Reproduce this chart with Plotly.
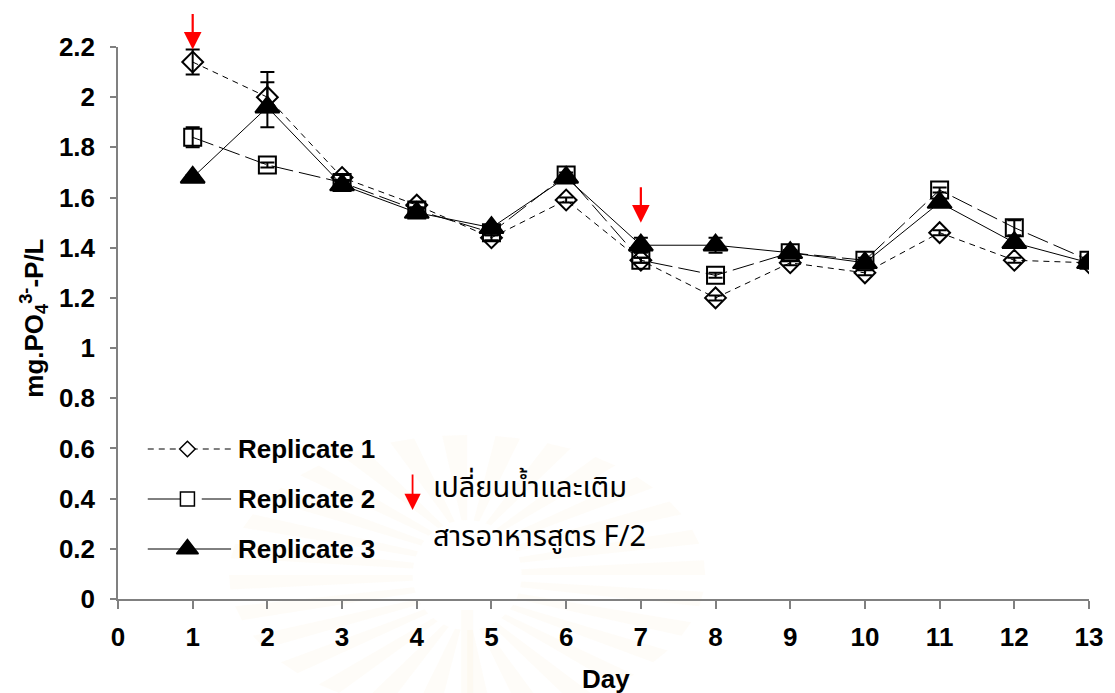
import math
import plotly.graph_objects as go

# Phosphate concentration (mg PO4(3-)-P/L) over the culture period
days = [1, 2, 3, 4, 5, 6, 7, 8, 9, 10, 11, 12, 13]

rep1 = [2.14, 2.00, 1.68, 1.57, 1.44, 1.59, 1.35, 1.20, 1.34, 1.30, 1.46, 1.35, 1.34]
rep1_err = [0.05, 0.06, 0.01, 0.01, 0.01, 0.01, 0.01, 0.01, 0.01, 0.01, 0.01, 0.01, 0.01]

rep2 = [1.84, 1.73, 1.66, 1.55, 1.46, 1.69, 1.35, 1.29, 1.38, 1.35, 1.63, 1.48, 1.35]
rep2_err = [0.04, 0.01, 0.01, 0.01, 0.01, 0.01, 0.01, 0.01, 0.01, 0.01, 0.01, 0.03, 0.01]

rep3 = [1.68, 1.96, 1.65, 1.54, 1.48, 1.68, 1.41, 1.41, 1.38, 1.34, 1.58, 1.42, 1.34]
rep3_err_plus = [0.01, 0.14, 0.01, 0.01, 0.01, 0.01, 0.03, 0.03, 0.01, 0.01, 0.01, 0.01, 0.01]
rep3_err_minus = [0.01, 0.08, 0.01, 0.01, 0.01, 0.01, 0.03, 0.03, 0.01, 0.01, 0.01, 0.01, 0.01]

# days on which the water was changed and F/2 nutrients were added
change_days = [1, 7]
change_tip = [2.19, 1.50]

series_names = ["Replicate 1", "Replicate 2", "Replicate 3"]
note_lines = ["เปลี่ยนน้ำและเติม", "สารอาหารสูตร F/2"]

y_ticks = [0, 0.2, 0.4, 0.6, 0.8, 1, 1.2, 1.4, 1.6, 1.8, 2, 2.2]
y_tick_text = ["0", "0.2", "0.4", "0.6", "0.8", "1", "1.2", "1.4", "1.6", "1.8", "2", "2.2"]
x_ticks = list(range(0, 14))

FONT = "Arial, Liberation Sans, sans-serif"
THAI_FONT = "Noto Sans Thai, Loma, Garuda, Tlwg Typo, Norasi, sans-serif"
BOLD = dict(family=FONT, size=26, color="black", weight="bold")

W, H = 1115, 693
ML, MR, MT, MB = 118, 18, 47, 94
PW, PH = W - ML - MR, H - MT - MB


def to_paper(px, py):
    return (px - ML) / PW, (H - MB - py) / PH


styles = [
    dict(symbol="diamond-open", size=16, dash="6px,5px", key_dash="6px,5px",
         key_symbol="diamond", key_size=12, fill="white"),
    dict(symbol="square-open", size=17, dash="22px,6px", key_dash="42px,12px",
         key_symbol="square", key_size=14, fill="white"),
    dict(symbol="triangle-up", size=21, dash="solid", key_dash="solid",
         key_symbol="triangle-up", key_size=19, fill="black"),
]

fig = go.Figure()

data_sets = [
    (rep1, rep1_err, rep1_err),
    (rep2, rep2_err, rep2_err),
    (rep3, rep3_err_plus, rep3_err_minus),
]

for (vals, ep, em), st, name in zip(data_sets, styles, series_names):
    fig.add_trace(go.Scatter(
        x=days, y=vals, name=name, mode="lines+markers",
        line=dict(color="black", width=1, dash=st["dash"]),
        marker=dict(symbol=st["symbol"], size=st["size"], color="black",
                    line=dict(color="black", width=2)),
        error_y=dict(type="data", array=ep, arrayminus=em, symmetric=False,
                     color="black", thickness=2, width=7),
        showlegend=False,
    ))

# Hand-made key drawn on an overlay axis spanning the plot area (0..1)
key_rows = [to_paper(0, 449)[1], to_paper(0, 499)[1], to_paper(0, 549)[1]]
key_x0, key_xm, key_x1 = to_paper(148, 0)[0], to_paper(188, 0)[0], to_paper(232, 0)[0]
for row, st in zip(key_rows, styles):
    fig.add_trace(go.Scatter(
        x=[key_x0, key_xm, key_x1], y=[row, row, row],
        xaxis="x2", yaxis="y2", mode="lines",
        line=dict(color="black", width=1, dash=st["key_dash"]),
        hoverinfo="skip", showlegend=False,
    ))
    fig.add_trace(go.Scatter(
        x=[key_xm], y=[row], xaxis="x2", yaxis="y2", mode="markers",
        marker=dict(symbol=st["key_symbol"], size=st["key_size"],
                    color=st["fill"], line=dict(color="black", width=1.5)),
        hoverinfo="skip", showlegend=False,
    ))

annotations = []
for row, name in zip(key_rows, series_names):
    annotations.append(dict(
        x=to_paper(237, 0)[0], y=row, xref="x2", yref="y2", text=name,
        showarrow=False, xanchor="left", yanchor="middle", font=BOLD,
    ))

# red arrows marking the water change days
for d, tip in zip(change_days, change_tip):
    annotations.append(dict(
        x=d, y=tip, xref="x", yref="y", ax=0, ay=-37, text="",
        showarrow=True, arrowhead=2, arrowsize=1.6, arrowwidth=2.2,
        arrowcolor="#ff0000", standoff=0,
    ))

# arrow key with the Thai note
kx, ky = to_paper(415, 510)
annotations.append(dict(
    x=kx, y=ky, xref="x2", yref="y2", ax=0, ay=-37, text="",
    showarrow=True, arrowhead=2, arrowsize=1.8, arrowwidth=1.8,
    arrowcolor="#ff0000", standoff=0,
))
for line, py in zip(note_lines, [488, 537]):
    nx, ny = to_paper(434, py)
    annotations.append(dict(
        x=nx, y=ny, xref="x2", yref="y2", text=line,
        showarrow=False, xanchor="left", yanchor="middle",
        font=dict(family=THAI_FONT, size=29, color="black"),
    ))

# axis titles
tx, ty = to_paper(33, 318)
annotations.append(dict(
    x=tx, y=ty, xref="paper", yref="paper", textangle=-90,
    text="mg.PO<sub>4</sub><sup>3-</sup>-P/L", showarrow=False,
    xanchor="center", yanchor="middle",
    font=dict(family=FONT, size=26, color="black", weight="bold"),
))
dx, dy = to_paper(610, 679)
annotations.append(dict(
    x=dx, y=dy, xref="paper", yref="paper", text="Day", showarrow=False,
    xanchor="center", yanchor="middle", font=BOLD,
))

# faint radiating emblem watermark behind the lower plot area
shapes = []
cx, cy = 470, 575
tint = "rgba(238,205,110,0.05)"
for k in range(28):
    a0 = math.radians(k * 360 / 28)
    a1 = a0 + math.radians(6)
    pts = []
    for a, r in [(a0, 55), (a0, 1.0), (a1, 1.0), (a1, 55)]:
        if r == 1.0:
            px, py = cx + 240 * math.cos(a), cy - 140 * math.sin(a)
        else:
            px, py = cx + r * math.cos(a), cy - r * math.sin(a)
        pts.append(to_paper(px, py))
    path = "M{:.4f},{:.4f} L{:.4f},{:.4f} L{:.4f},{:.4f} L{:.4f},{:.4f} Z".format(
        *[c for p in pts for c in p])
    shapes.append(dict(type="path", path=path, xref="paper", yref="paper",
                       fillcolor=tint, line=dict(width=0), layer="below"))
sx0, sy0 = to_paper(464, 610)
sx1, sy1 = to_paper(476, 693)
shapes.append(dict(type="rect", x0=sx0, y0=sy0, x1=sx1, y1=sy1, xref="paper",
                   yref="paper", fillcolor=tint, line=dict(width=0), layer="below"))

fig.update_layout(
    width=W, height=H,
    margin=dict(l=ML, r=MR, t=MT, b=MB),
    paper_bgcolor="white", plot_bgcolor="rgba(0,0,0,0)",
    showlegend=False,
    annotations=annotations,
    shapes=shapes,
    xaxis=dict(
        range=[0, 13], tickvals=x_ticks, ticks="outside", ticklen=8,
        tickcolor="#808080", tickwidth=1.5, showline=True, linecolor="#808080",
        linewidth=1.5, showgrid=False, zeroline=False,
        tickfont=BOLD, ticklabelstandoff=6,
    ),
    yaxis=dict(
        range=[0, 2.2], tickvals=y_ticks, ticktext=y_tick_text, ticks="outside",
        ticklen=6, tickcolor="#808080", tickwidth=1.5, showline=True,
        linecolor="#808080", linewidth=1.5, showgrid=False, zeroline=False,
        tickfont=BOLD, ticklabelstandoff=10,
    ),
    xaxis2=dict(range=[0, 1], overlaying="x", visible=False, fixedrange=True),
    yaxis2=dict(range=[0, 1], overlaying="y", visible=False, fixedrange=True),
)

fig.write_html("out.html")
